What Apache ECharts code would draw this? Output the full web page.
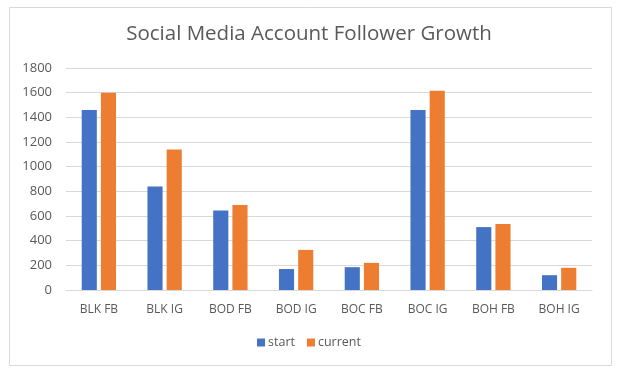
<!DOCTYPE html>
<html>
<head>
<meta charset="utf-8">
<script src="https://cdn.jsdelivr.net/npm/echarts@6/dist/echarts.min.js"></script>
<style>
	html, body { margin: 0; padding: 0; background: #fff; }
	#main { width: 618px; height: 377px; }
</style>
</head>
<body>
<div id="main"></div>
<script>
	// accounts
	var categories = ['BLK FB', 'BLK IG', 'BOD FB', 'BOD IG', 'BOC FB', 'BOC IG', 'BOH FB', 'BOH IG'];
	var startValues = [1460, 840, 645, 170, 185, 1460, 510, 120];
	var currentValues = [1600, 1140, 690, 325, 220, 1615, 535, 180];
	var seriesNames = ['start', 'current'];

	var myChart = echarts.init(document.getElementById('main'));
	var font = 'Open Sans, sans-serif';

	var option = {
		backgroundColor: '#fff',
		color: ['#4472C4', '#ED7D31'],
		animation: false,
		title: {
			text: 'Social Media Account Follower Growth',
			left: 'center',
			top: 19,
			textStyle: { color: '#595959', fontSize: 20.5, fontWeight: 'normal', fontFamily: font }
		},
		// chart border
		graphic: [{
			type: 'rect',
			shape: { x: 9.5, y: 7.5, width: 602, height: 358 },
			style: { fill: 'none', stroke: '#d9d9d9', lineWidth: 1 },
			silent: true
		}],
		legend: {
			data: seriesNames,
			bottom: 23,
			left: 'center',
			itemWidth: 8,
			itemHeight: 8,
			itemGap: 12,
			icon: 'rect',
			textStyle: { color: '#595959', fontSize: 12.5, fontFamily: font, padding: [0, 0, 0, -2] }
		},
		grid: { left: 66, right: 26, top: 68, bottom: 87, containLabel: false },
		xAxis: {
			type: 'category',
			data: categories,
			axisLine: { lineStyle: { color: '#d9d9d9' } },
			axisTick: { show: false },
			axisLabel: { color: '#595959', fontSize: 12, fontFamily: font, margin: 14 }
		},
		yAxis: {
			type: 'value',
			min: 0,
			max: 1800,
			interval: 200,
			axisLine: { show: false },
			axisTick: { show: false },
			axisLabel: {
				color: '#595959', fontSize: 13, fontFamily: font, margin: 14,
				formatter: function (v) { return String(v); }
			},
			splitLine: { lineStyle: { color: '#d9d9d9' } }
		},
		series: [
			{ name: seriesNames[0], type: 'bar', data: startValues, barWidth: '23%', barGap: '27%' },
			{ name: seriesNames[1], type: 'bar', data: currentValues, barWidth: '23%', barGap: '27%' }
		]
	};

	myChart.setOption(option);
</script>
</body>
</html>
